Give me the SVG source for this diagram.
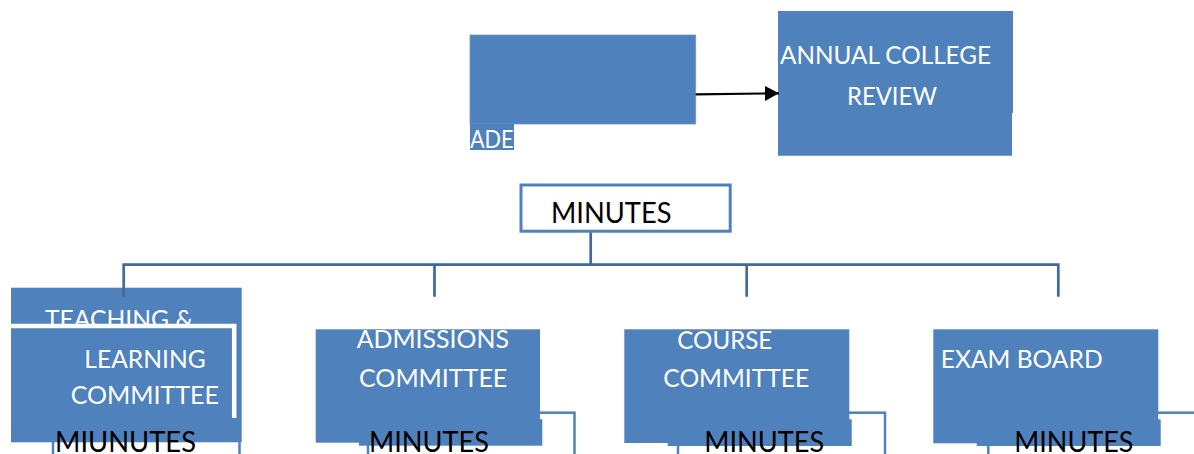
<svg xmlns="http://www.w3.org/2000/svg" width="1194" height="454" viewBox="0 0 1194 454">
<style>
.blue{fill:#4F81BD}
.outline{fill:#fff;stroke:#4F81BD;stroke-width:2.5}
.wt{font-family:Lato,"Liberation Sans",sans-serif;font-size:25px;fill:#fff}
.bt{font-family:Lato,"Liberation Sans",sans-serif;font-size:29px;fill:#000}
.conn{fill:none;stroke:#41699C;stroke-width:2.7}
</style>
<defs>
<marker id="arr" markerWidth="14" markerHeight="15" refX="14" refY="7.5" orient="auto" markerUnits="userSpaceOnUse">
<path d="M0,0 L14,7.5 L0,15 Z" fill="#000"/>
</marker>
</defs>
<rect width="1194" height="454" fill="#fff"/>

<g id="node-top-left">
<rect class="blue" x="470" y="35" width="225.7" height="89" stroke="#6E97C9" stroke-width="0.8"/>
<rect class="blue" x="470" y="124" width="44" height="26"/>
<text class="wt" x="470" y="148.3" font-size="23" textLength="43.5" lengthAdjust="spacingAndGlyphs">ADE</text>
</g>

<g id="node-annual-review">
<path class="blue" d="M778,11 H1013 V113 H1012 V155.7 H778 Z"/>
<text class="wt" x="780" y="63.5" textLength="211" lengthAdjust="spacingAndGlyphs">ANNUAL COLLEGE</text>
<text class="wt" x="847" y="105" textLength="90" lengthAdjust="spacingAndGlyphs">REVIEW</text>
</g>

<g id="node-minutes-top">
<rect x="521" y="185" width="209.2" height="46.2" fill="#fff" stroke="#4F81BD" stroke-width="3"/>
<text class="bt" x="551" y="222.7" textLength="120.5" lengthAdjust="spacingAndGlyphs">MINUTES</text>
</g>

<g id="node-teaching">
<rect class="outline" x="53" y="420" width="186.5" height="60"/>
<rect class="blue" x="11" y="287.7" width="230.7" height="154.6"/>
<text class="wt" x="45" y="328" textLength="148" lengthAdjust="spacingAndGlyphs">TEACHING &amp;</text>
<rect class="blue" x="11" y="326" width="223" height="92"/>
<path d="M11,326 H234.2 V418" fill="none" stroke="#fff" stroke-width="4.5"/>
<text class="wt" x="84.3" y="368.3" font-size="27" textLength="121.4" lengthAdjust="spacingAndGlyphs">LEARNING</text>
<text class="wt" x="70.7" y="404.3" font-size="26" textLength="148.3" lengthAdjust="spacingAndGlyphs">COMMITTEE</text>
<text class="bt" x="55" y="451.5" textLength="141" lengthAdjust="spacingAndGlyphs">MIUNUTES</text>
</g>

<g id="node-admissions">
<rect class="outline" x="368" y="412.7" width="206.5" height="70"/>
<rect class="blue" x="315.7" y="329.3" width="224.3" height="113.4"/>
<rect class="blue" x="359" y="419.3" width="183.3" height="26.4"/>
<text class="wt" x="356.7" y="348.3" textLength="152.3" lengthAdjust="spacingAndGlyphs">ADMISSIONS</text>
<text class="wt" x="359" y="387.3" font-size="26" textLength="148.3" lengthAdjust="spacingAndGlyphs">COMMITTEE</text>
<text class="bt" x="369" y="451.7" textLength="120" lengthAdjust="spacingAndGlyphs">MINUTES</text>
</g>

<g id="node-course">
<rect class="outline" x="678" y="412.7" width="207" height="70"/>
<rect class="blue" x="624.3" y="329.3" width="225" height="113.7"/>
<rect class="blue" x="667.7" y="419.3" width="184" height="26.7"/>
<text class="wt" x="677.3" y="349.3" textLength="95" lengthAdjust="spacingAndGlyphs">COURSE</text>
<text class="wt" x="663.3" y="387" font-size="26" textLength="146" lengthAdjust="spacingAndGlyphs">COMMITTEE</text>
<text class="bt" x="704.3" y="451.7" textLength="120" lengthAdjust="spacingAndGlyphs">MINUTES</text>
</g>

<g id="node-exam-board">
<rect class="outline" x="988.3" y="412.7" width="260" height="70"/>
<rect class="blue" x="933.3" y="329.3" width="225" height="114"/>
<rect class="blue" x="976.7" y="419.3" width="184" height="26.7"/>
<text class="wt" x="940.7" y="368.3" textLength="162" lengthAdjust="spacingAndGlyphs">EXAM BOARD</text>
<text class="bt" x="1014.3" y="451.7" textLength="119" lengthAdjust="spacingAndGlyphs">MINUTES</text>
</g>

<g id="connectors">
<line x1="695.7" y1="94.3" x2="779" y2="93.3" stroke="#000" stroke-width="2.2" marker-end="url(#arr)"/>
<path class="conn" d="M590.7,232.5 V264.7 M122.3,264.7 H1059.6 M123.7,263.4 V296.7 M434.5,264.7 V296.7 M746.7,264.7 V296.7 M1058.3,264.7 V296.7"/>
</g>
</svg>
